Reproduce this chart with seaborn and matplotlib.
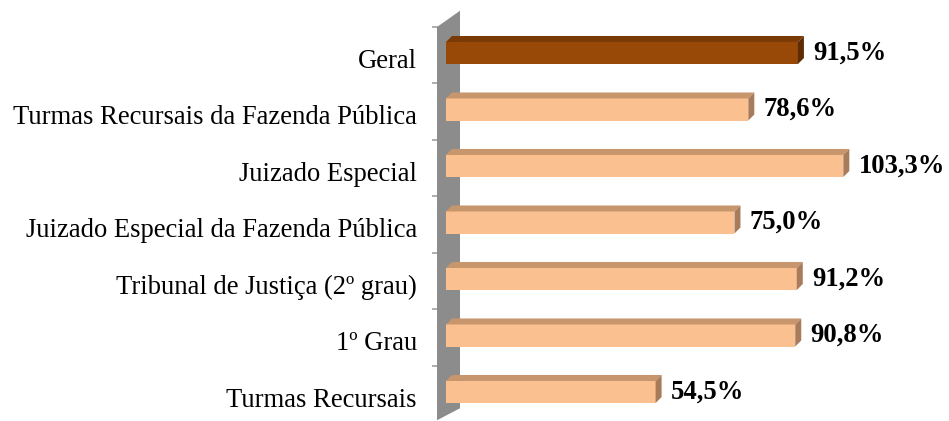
import numpy as np
import pandas as pd
import matplotlib.pyplot as plt
import seaborn as sns
from matplotlib.patches import Polygon

# Data (top to bottom)
categories = ['Geral', 'Turmas Recursais da Fazenda Pública', 'Juizado Especial',
              'Juizado Especial da Fazenda Pública', 'Tribunal de Justiça (2º grau)',
              '1º Grau', 'Turmas Recursais']
values = [91.5, 78.6, 103.3, 75.0, 91.2, 90.8, 54.5]
bar_colors = ['#984807', '#FAC090', '#FAC090', '#FAC090', '#FAC090', '#FAC090', '#FAC090']
top_colors = ['#7A3A06', '#C8966C', '#C8966C', '#C8966C', '#C8966C', '#C8966C', '#C8966C']
side_colors = ['#5E2C04', '#A87C5A', '#A87C5A', '#A87C5A', '#A87C5A', '#A87C5A', '#A87C5A']

df = pd.DataFrame({'categoria': categories, 'valor': values})

sns.set_style('white')
plt.rcParams['font.family'] = ['Liberation Serif', 'DejaVu Serif']

W, H = 949, 421
fig = plt.figure(figsize=(W / 100, H / 100), dpi=100)
ax = fig.add_axes([446 / W, 1 - 420.25 / H, 500 / W, 395.5 / H])

sns.barplot(data=df, y='categoria', x='valor', hue='categoria', order=categories,
            palette=bar_colors, saturation=1, width=0.39, legend=False, ax=ax,
            zorder=4, edgecolor='none')
ax.set_xlim(0, 130)
ax.set_ylim(len(categories) - 0.5, -0.5)

# pseudo 3D depth (6 px right, 6 px up)
px_x = 500 / 130
px_y = 395.5 / len(categories)
dx = 6 / px_x
dy = 6 / px_y
for i, p in enumerate(ax.patches[:len(categories)]):
    x0, w = p.get_x(), p.get_width()
    y0, h = p.get_y(), p.get_height()
    x1 = x0 + w
    top = Polygon([(x0, y0), (x1, y0), (x1 + dx, y0 - dy), (x0 + dx, y0 - dy)],
                  closed=True, facecolor=top_colors[i], edgecolor='none', zorder=4)
    side = Polygon([(x1, y0), (x1 + dx, y0 - dy), (x1 + dx, y0 + h - dy), (x1, y0 + h)],
                   closed=True, facecolor=side_colors[i], edgecolor='none', zorder=4)
    ax.add_patch(top)
    ax.add_patch(side)
    ax.annotate(f'{values[i]:.1f}%'.replace('.', ','), xy=(x1, y0 + h / 2),
                xytext=(11, 0), textcoords='offset points', va='center', ha='left',
                fontsize=19.2, fontweight='bold', color='black', annotation_clip=False)

# gray wall on the left
wx0, wx1 = -9 / px_x, 14 / px_x
wall = Polygon([(wx0, -0.5 + 2.25 / px_y), (wx1, -0.5 - 14 / px_y),
                (wx1, len(categories) - 0.5 - 12 / px_y), (wx0, len(categories) - 0.5)],
               closed=True, facecolor='#8C8C8C', edgecolor='none', zorder=3, clip_on=False)
ax.add_patch(wall)

# category labels sit a few px below the bar centres
ax.set_yticks(np.arange(len(categories)) + 5 / px_y)
ax.set_yticklabels(categories)
ax.set_yticks(np.arange(-0.5, len(categories) - 0.5, 1) + 2 / px_y, minor=True)
ax.tick_params(axis='y', which='major', length=0, pad=21, labelsize=19.2,
               labelcolor='black')
ax.tick_params(axis='y', which='minor', length=10, width=1.2, color='#A0A0A0', left=True)
ax.set_xticks([])
ax.set_xlabel('')
ax.set_ylabel('')
for s in ax.spines.values():
    s.set_visible(False)

fig.savefig('out.png', dpi=100)
